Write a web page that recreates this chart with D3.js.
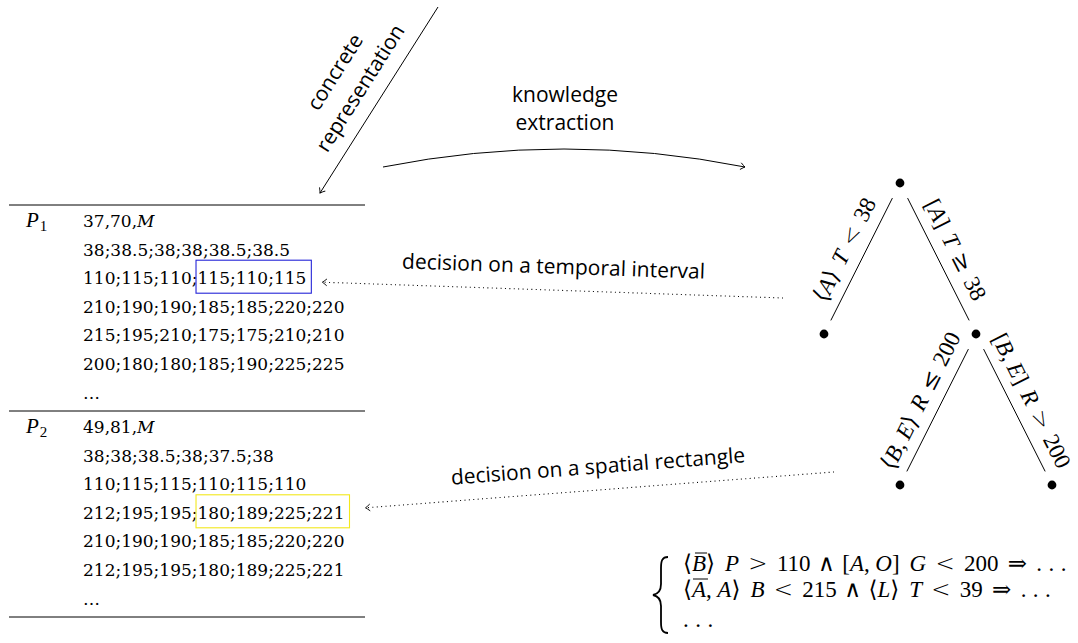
<!DOCTYPE html>
<html><head><meta charset="utf-8">
<script src="https://cdn.jsdelivr.net/npm/d3@7/dist/d3.min.js"></script>
<style>html,body{margin:0;padding:0;background:#fff;} svg{display:block;}</style>
</head><body>
<svg id="chart" width="1078" height="643"></svg>
<script>
// ---------------- data ----------------
const patientNames = ["P", "P"];
const patientIndex = ["1", "2"];
const patient1Rows = ["37,70,M", "38;38.5;38;38;38.5;38.5", "110;115;110;115;110;115",
  "210;190;190;185;185;220;220", "215;195;210;175;175;210;210", "200;180;180;185;190;225;225", "…"];
const patient2Rows = ["49,81,M", "38;38;38.5;38;37.5;38", "110;115;115;110;115;110",
  "212;195;195;180;189;225;221", "210;190;190;185;185;220;220", "212;195;195;180;189;225;221", "…"];
const highlightPatient = [0, 1];
const highlightRow = [2, 3];
const highlightFirstValue = [3, 3];
const highlightColors = ["#2424d8", "#f2e81c"];
const splitLabels = ["⟨A⟩ T < 38", "[A] T ≥ 38", "⟨B, E⟩ R ≤ 200", "[B, E] R > 200"];
const decisionLabels = ["decision on a temporal interval", "decision on a spatial rectangle"];
const representationLabel = ["concrete", "representation"];
const extractionLabel = ["knowledge", "extraction"];
const ruleLines = ["⟨B\u0304⟩ P > 110 ∧ [A, O] G < 200 ⇒ …", "⟨A\u0304, A⟩ B < 215 ∧ ⟨L⟩ T < 39 ⇒ …", "…"];
const treeSpec = { children: [ { edge: 0 }, { edge: 1, children: [ { edge: 2 }, { edge: 3 } ] } ] };

// ---------------- setup ----------------
const svg = d3.select("#chart");
const sansFont = "'Open Sans', 'Noto Sans', sans-serif";
const tableFont = "'DejaVu Serif', serif";
const mathFont = "'Liberation Serif', 'DejaVu Serif', 'DejaVu Sans', serif";
const symFont = "'DejaVu Sans', 'DejaVu Serif', serif";

const defs = svg.append("defs");
defs.append("marker").attr("id", "arr").attr("markerUnits", "userSpaceOnUse")
  .attr("orient", "auto").attr("refX", 0).attr("refY", 0)
  .attr("markerWidth", 12).attr("markerHeight", 12).style("overflow", "visible")
  .append("path").attr("d", "M-4.5,-3.4 Q-1.3,-0.7 0,0 Q-1.3,0.7 -4.5,3.4")
  .attr("fill", "none").attr("stroke", "#000").attr("stroke-width", 0.9);

// math typesetter: italic letters, spacing around relations / operators
function mathText(parent, str, size, gapScale) {
  const s = str.replace(/\s*([<>≤≥⇒∧])\s*/g, "$1").replace(/,\s*/g, ",");
  const text = parent.append("text").attr("font-family", mathFont).attr("font-size", size)
    .style("white-space", "pre").attr("fill", "#000");
  let gap = 0; const over = [];
  for (let i = 0; i < s.length; i++) {
    const ch = s[i];
    if (ch === "\u0304") continue;
    if (ch === " ") { gap += 0.3; continue; }
    if (ch === "…") {
      for (let k = 0; k < 3; k++) {
        const d = text.append("tspan").text(".");
        const g = (k === 0 ? gap * gapScale : 0.28);
        if (g) d.attr("dx", g * size);
      }
      gap = 0; continue;
    }
    const rel = "<>≤≥⇒".includes(ch), bin = ch === "∧";
    if (rel) gap += 0.278; if (bin) gap += 0.222;
    const t = text.append("tspan").text(ch);
    if (gap) t.attr("dx", gap * size * gapScale);
    if (/[A-Za-z]/.test(ch)) t.attr("font-style", "italic");
    if (rel || ch === "⟨" || ch === "⟩") t.attr("font-family", symFont).attr("font-weight", 200);
    if (bin) t.attr("font-family", "'DejaVu Serif', serif");
    if (s[i + 1] === "\u0304") over.push(t);
    gap = rel ? 0.278 : bin ? 0.222 : ch === "," ? 0.167 : 0;
  }
  return { text, over };
}
function drawOverlines(parent, over) {
  over.forEach(t => {
    const b = t.node().getBBox();
    parent.append("line").attr("x1", b.x + 3).attr("x2", b.x + b.width + 1)
      .attr("y1", b.y + 2).attr("y2", b.y + 2)
      .attr("stroke", "#000").attr("stroke-width", 1);
  });
}

// ---------------- table ----------------
const blocks = [patient1Rows, patient2Rows];
const blockY = d3.scaleLinear().domain([0, 1]).range([227, 433]);
const rowY = d3.scaleLinear().domain([0, 1]).range([0, 28.6]);
const tableX = d3.scaleLinear().domain([0, 1]).range([9, 365]);
const table = svg.append("g");
[0, 1, 2].forEach(i => {
  table.append("line").attr("x1", tableX(0)).attr("x2", tableX(1))
    .attr("y1", blockY(i) - 22).attr("y2", blockY(i) - 22)
    .attr("stroke", "#000").attr("stroke-width", 1);
});
const rowTexts = [[], []];
blocks.forEach((rows, bi) => {
  const pt = table.append("text").attr("x", 26).attr("y", blockY(bi))
    .attr("font-family", mathFont).attr("font-size", 21);
  pt.append("tspan").attr("font-style", "italic").text(patientNames[bi]);
  pt.append("tspan").attr("font-size", 15).attr("dy", 4).attr("dx", 1).text(patientIndex[bi]);
  rows.forEach((r, ri) => {
    const t = table.append("text").attr("x", 83).attr("y", blockY(bi) + rowY(ri))
      .attr("font-family", tableFont).attr("font-size", 17).attr("fill", "#000");
    r.split(/([A-Za-z]+)/).filter(p => p.length).forEach(p => {
      const ts = t.append("tspan").text(p);
      if (/[A-Za-z]/.test(p)) ts.attr("font-style", "italic");
    });
    rowTexts[bi].push(t);
  });
});
const boxes = highlightPatient.map((p, k) => {
  const r = highlightRow[k];
  const str = blocks[p][r];
  const vals = str.split(";");
  const start = vals.slice(0, highlightFirstValue[k]).join(";").length + 1;
  const node = rowTexts[p][r].node();
  const x0 = node.getStartPositionOfChar(start).x - 1.5;
  const x1 = node.getEndPositionOfChar(str.length - 1).x + 5;
  const base = blockY(p) + rowY(r);
  table.append("rect").attr("x", x0).attr("y", base - 24).attr("width", x1 - x0).attr("height", 33)
    .attr("fill", "none").attr("stroke", highlightColors[k]).attr("stroke-width", 1.1);
  return { x0, x1, base };
});

// ---------------- tree ----------------
const root = d3.hierarchy(treeSpec);
d3.tree().nodeSize([152, 151])(root);
const ox = 900, oy = 183;
const tree = svg.append("g");
root.links().forEach(l => {
  const x1 = ox + l.source.x, y1 = oy + l.source.y, x2 = ox + l.target.x, y2 = oy + l.target.y;
  const dx = x2 - x1, dy = y2 - y1;
  tree.append("line").attr("x1", x1 + dx * 0.1).attr("y1", y1 + dy * 0.1)
    .attr("x2", x1 + dx * 0.91).attr("y2", y1 + dy * 0.91)
    .attr("stroke", "#000").attr("stroke-width", 1);
  const L = Math.hypot(dx, dy), ux = dx / L, uy = dy / L;
  const left = dx < 0;
  const nx = left ? -uy : uy, ny = left ? ux : -ux;
  const mx = (x1 + x2) / 2 + nx * 20, my = (y1 + y2) / 2 + ny * 20;
  const ang = Math.atan2(dy, dx) * 180 / Math.PI + (left ? -180 : 0);
  const g = tree.append("g").attr("transform", `translate(${mx},${my}) rotate(${ang})`);
  const m = mathText(g, splitLabels[l.target.data.edge], 23, 1.3);
  m.text.attr("text-anchor", "middle").attr("y", 8);
});
tree.selectAll("circle.node").data(root.descendants()).join("circle")
  .attr("class", "node").attr("cx", d => ox + d.x).attr("cy", d => oy + d.y)
  .attr("r", 4.4).attr("fill", "#000");

// ---------------- arrows ----------------
const arrows = svg.append("g");
// concrete representation
const cr = { x1: 438, y1: 7, x2: 320, y2: 193 };
arrows.append("line").attr("x1", cr.x1).attr("y1", cr.y1).attr("x2", cr.x2).attr("y2", cr.y2)
  .attr("stroke", "#000").attr("stroke-width", 1).attr("marker-end", "url(#arr)");
{
  const a = Math.atan2(cr.y1 - cr.y2, cr.x1 - cr.x2) * 180 / Math.PI;
  const g = arrows.append("g").attr("transform", `translate(${(cr.x1 + cr.x2) / 2},${(cr.y1 + cr.y2) / 2}) rotate(${a})`);
  representationLabel.forEach((t, i) => g.append("text").attr("x", 0).attr("y", -52 + i * 30 + 7)
    .attr("text-anchor", "middle").attr("font-family", sansFont).attr("font-size", 21).text(t));
}
// knowledge extraction
{
  const p = d3.path(); p.moveTo(383, 167); p.quadraticCurveTo(564, 131, 745, 167);
  arrows.append("path").attr("d", p.toString())
    .attr("fill", "none").attr("stroke", "#000").attr("stroke-width", 1).attr("marker-end", "url(#arr)");
}
extractionLabel.forEach((t, i) => arrows.append("text").attr("x", 565).attr("y", 101.5 + i * 28.5)
  .attr("text-anchor", "middle").attr("font-family", sansFont).attr("font-size", 21).text(t));

// decision arrows (dotted)
const leafA = root.children[0], leafC = root.children[1].children[0];
const decisions = [
  { x1: ox + leafA.x - 41, y1: oy + leafA.y - 36, x2: boxes[0].x1 + 11, y2: boxes[0].base - 2 },
  { x1: ox + leafC.x - 66, y1: oy + leafC.y - 13, x2: boxes[1].x1 + 16, y2: boxes[1].base - 11 }
];
decisions.forEach((d, i) => {
  arrows.append("line").attr("x1", d.x1).attr("y1", d.y1).attr("x2", d.x2).attr("y2", d.y2)
    .attr("stroke", "#000").attr("stroke-width", 1.1).attr("stroke-dasharray", "1 3.4");
  const a = Math.atan2(d.y2 - d.y1, d.x2 - d.x1);
  arrows.append("path").attr("d", "M-4.5,-3.4 Q-1.3,-0.7 0,0 Q-1.3,0.7 -4.5,3.4")
    .attr("transform", `translate(${d.x2},${d.y2}) rotate(${a * 180 / Math.PI})`)
    .attr("fill", "none").attr("stroke", "#000").attr("stroke-width", 0.9);
  const ang = Math.atan2(d.y1 - d.y2, d.x1 - d.x2) * 180 / Math.PI;
  const g = arrows.append("g").attr("transform", `translate(${(d.x1 + d.x2) / 2},${(d.y1 + d.y2) / 2}) rotate(${ang})`);
  g.append("text").attr("x", 0).attr("y", -16.5).attr("text-anchor", "middle")
    .attr("font-family", sansFont).attr("font-size", 21).text(decisionLabels[i]);
});

// ---------------- rules ----------------
const rules = svg.append("g");
rules.append("path")
  .attr("d", "M668,557 C662,557 661,561 661,568 L661,584 C661,591 658,594 653,595 C658,596 661,599 661,606 L661,622 C661,629 662,633 668,633")
  .attr("fill", "none").attr("stroke", "#000").attr("stroke-width", 1.8);
const ruleY = d3.scaleLinear().domain([0, 1]).range([571, 597]);
ruleLines.forEach((r, i) => {
  const m = mathText(rules, r, 23, 1.45);
  m.text.attr("x", 683).attr("y", i < 2 ? ruleY(i) : ruleY(i) + 4);
  drawOverlines(rules, m.over);
});
</script>
</body></html>
